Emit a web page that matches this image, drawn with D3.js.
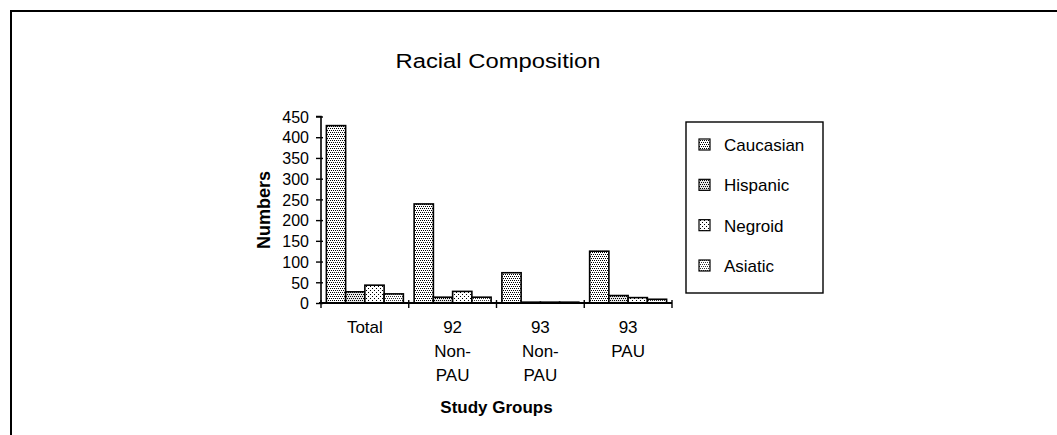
<!DOCTYPE html>
<html>
<head>
<meta charset="utf-8">
<script src="https://cdn.jsdelivr.net/npm/d3@7"></script>
<style>
  html, body { margin: 0; padding: 0; background: #fff; }
  svg { display: block; font-family: "Liberation Sans", Arial, sans-serif; }
</style>
</head>
<body>
<svg id="chart" width="1057" height="435"></svg>
<script>
// ---- data ----
const groups = ["Total", "92 Non-PAU", "93 Non-PAU", "93 PAU"];
const groupLabelLines = [["Total"], ["92", "Non-", "PAU"], ["93", "Non-", "PAU"], ["93", "PAU"]];
const series = ["Caucasian", "Hispanic", "Negroid", "Asiatic"];
const caucasian = [428, 239, 73, 125];
const hispanic  = [27, 14, 2, 18];
const negroid   = [43, 28, 2, 13];
const asiatic   = [22, 14, 2, 9];
const yTicks = [0, 50, 100, 150, 200, 250, 300, 350, 400, 450];
const title = "Racial Composition";
const yTitle = "Numbers";
const xTitle = "Study Groups";

const valuesBySeries = [caucasian, hispanic, negroid, asiatic];

const svg = d3.select("#chart");

// ---- patterns (stipple fills) ----
const defs = svg.append("defs");
function dotPattern(id, size, dots, bg, dotColor) {
  const p = defs.append("pattern").attr("id", id).attr("patternUnits", "userSpaceOnUse")
    .attr("width", size).attr("height", size);
  p.append("rect").attr("width", size).attr("height", size).attr("fill", bg);
  dots.forEach(([x, y]) => p.append("rect").attr("x", x).attr("y", y).attr("width", 1).attr("height", 1).attr("fill", dotColor));
}
const stagger = [[0,0],[2,0],[1,2],[3,2]];
dotPattern("pat0", 4, stagger, "#fff", "#000");
dotPattern("pat1", 4, stagger, "#e6e6e6", "#000");
dotPattern("pat2", 4, [[0,0],[2,2]], "#fff", "#000");
dotPattern("pat3", 4, stagger, "#fff", "#333");
const fills = ["url(#pat0)", "url(#pat1)", "url(#pat2)", "url(#pat3)"];

// ---- frame ----
svg.append("line").attr("x1", 10).attr("x2", 1057).attr("y1", 11).attr("y2", 11).attr("stroke", "#000").attr("stroke-width", 2);
svg.append("line").attr("x1", 11).attr("x2", 11).attr("y1", 10).attr("y2", 435).attr("stroke", "#000").attr("stroke-width", 2);

// ---- scales ----
const plot = { left: 321, right: 672, top: 116.5, bottom: 303 };
const x0 = d3.scaleBand().domain(groups).range([plot.left, plot.right]).padding(0);
const x1 = d3.scaleBand().domain(series).range([0, x0.bandwidth()]).paddingInner(0).paddingOuter(0.28);
const y = d3.scaleLinear().domain([0, 450]).range([plot.bottom, plot.top]);

// ---- title ----
svg.append("text").attr("x", 498).attr("y", 68).attr("text-anchor", "middle")
  .attr("font-size", 20).attr("textLength", 205).attr("lengthAdjust", "spacingAndGlyphs")
  .text(title);

// ---- bars ----
const gBars = svg.append("g");
groups.forEach((g, gi) => {
  series.forEach((s, si) => {
    const v = valuesBySeries[si][gi];
    gBars.append("rect")
      .attr("x", x0(g) + x1(s))
      .attr("y", y(v))
      .attr("width", x1.bandwidth())
      .attr("height", Math.max(0, y(0) - y(v)))
      .attr("fill", fills[si])
      .attr("stroke", "#000")
      .attr("stroke-width", 1.6);
  });
});

// ---- y axis ----
const yAxis = d3.axisLeft(y).tickValues(yTicks).tickSize(5).tickPadding(8);
const gy = svg.append("g").attr("transform", `translate(${plot.left},0)`).call(yAxis);
gy.select(".domain").attr("stroke-width", 1.6).attr("d", `M-5,${plot.top}H0V${plot.bottom}`);
gy.selectAll(".tick line").attr("x2", 2).attr("x1", -5).attr("stroke-width", 1.4);
gy.selectAll(".tick text").attr("font-size", 16).attr("font-family", "Liberation Sans, Arial, sans-serif")
  .attr("fill", "#000").attr("x", -12).attr("dy", "0.36em");

// ---- x axis ----
const gx = svg.append("g").attr("transform", `translate(0,${plot.bottom})`);
gx.append("line").attr("x1", plot.left - 2).attr("x2", plot.right).attr("y1", 0).attr("y2", 0)
  .attr("stroke", "#000").attr("stroke-width", 2);
const boundaries = groups.map(g => x0(g)).concat([x0(groups[groups.length - 1]) + x0.bandwidth()]);
gx.selectAll("line.tk").data(boundaries).enter().append("line").attr("class", "tk")
  .attr("x1", d => d).attr("x2", d => d).attr("y1", -3).attr("y2", 5)
  .attr("stroke", "#000").attr("stroke-width", 1.4);

// category labels
groups.forEach((g, gi) => {
  const cx = x0(g) + x0.bandwidth() / 2;
  const t = svg.append("text").attr("x", cx).attr("y", 333).attr("text-anchor", "middle").attr("font-size", 17);
  groupLabelLines[gi].forEach((line, li) => {
    t.append("tspan").attr("x", cx).attr("dy", li === 0 ? 0 : 24).text(line);
  });
});

// axis titles
svg.append("text").attr("x", (plot.left + plot.right) / 2).attr("y", 413).attr("text-anchor", "middle")
  .attr("font-size", 17).attr("font-weight", "bold").text(xTitle);
svg.append("text").attr("transform", `translate(270,210) rotate(-90)`).attr("text-anchor", "middle")
  .attr("font-size", 18).attr("font-weight", "bold").text(yTitle);

// ---- legend ----
const legend = svg.append("g");
legend.append("rect").attr("x", 686).attr("y", 122).attr("width", 137).attr("height", 171)
  .attr("fill", "none").attr("stroke", "#000").attr("stroke-width", 1.4);
const ly = d3.scalePoint().domain(series).range([145, 266]);
series.forEach((s, si) => {
  legend.append("rect").attr("x", 699).attr("y", ly(s) - 6).attr("width", 11).attr("height", 11)
    .attr("fill", fills[si]).attr("stroke", "#000").attr("stroke-width", 1.2);
  legend.append("text").attr("x", 724).attr("y", ly(s)).attr("dy", "0.36em").attr("font-size", 17).text(s);
});
</script>
</body>
</html>
